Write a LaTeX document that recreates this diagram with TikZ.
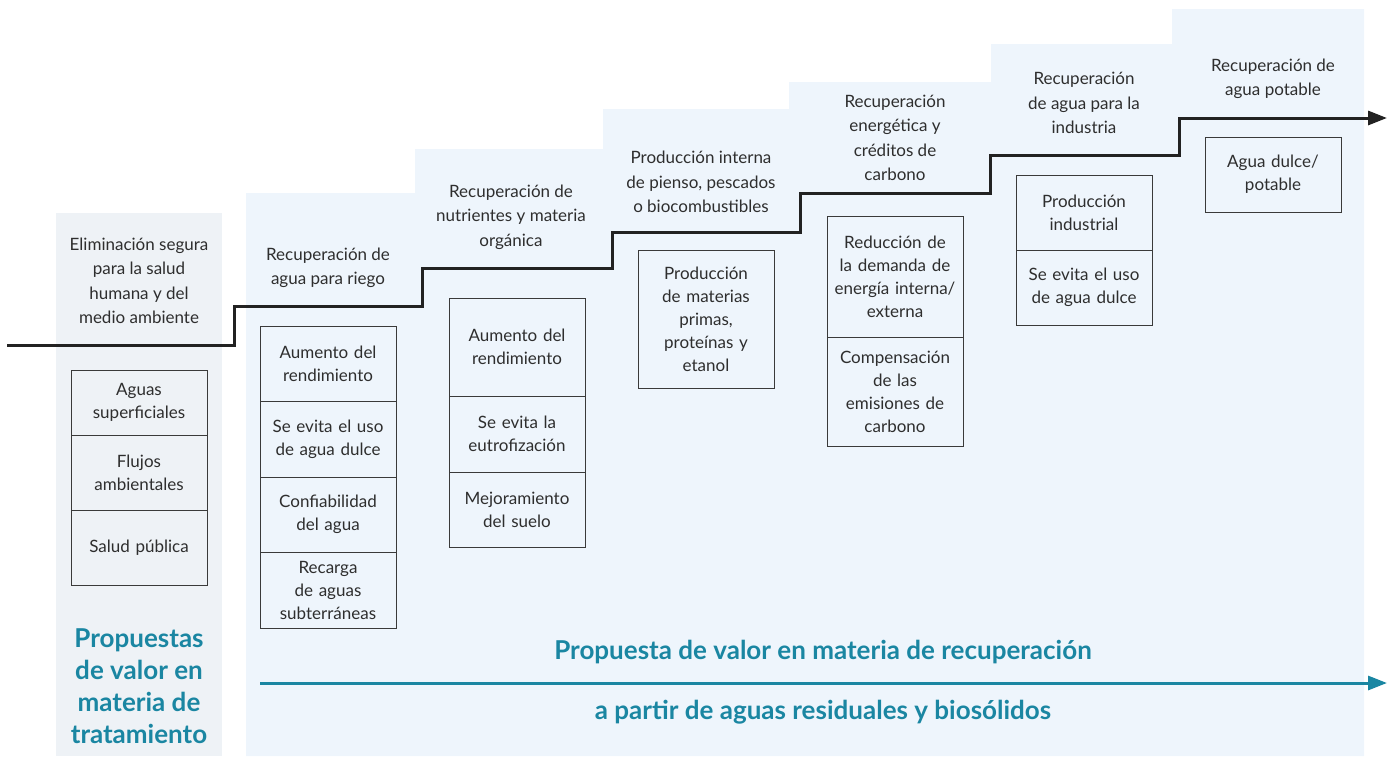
\documentclass[tikz,border=0pt]{standalone}
\usepackage{fontspec}
\setmainfont{Lato}
\usetikzlibrary{positioning,arrows.meta}
\definecolor{greypanel}{HTML}{EEF2F6}
\definecolor{bluepanel}{HTML}{EEF5FC}
\definecolor{tealtxt}{HTML}{1A86A2}
\definecolor{darktxt}{HTML}{2E2E2E}
\definecolor{boxline}{HTML}{3A3A3A}
\definecolor{stepcol}{HTML}{222222}
\begin{document}
\begin{tikzpicture}[x=1pt, y=-1pt, line join=miter, >={Triangle[length=19pt,width=14pt]},
	font=\fontsize{17}{24.5}\selectfont, text=darktxt,
	head/.style={align=center, inner sep=0pt},
	cell/.style={draw=boxline, line width=1pt, minimum width=136pt, minimum height=#1, text width=134pt, align=center, inner sep=0pt, outer sep=0pt, font=\fontsize{17}{23}\selectfont},
	title/.style={text=tealtxt, font=\fontsize{26}{32}\selectfont\bfseries, align=center, inner sep=0pt}]
	\useasboundingbox (0,0) rectangle (1395,756);
	% fondos
	\fill[greypanel] (56,213) rectangle (222,756);
	\fill[bluepanel] (246,756) |- (415,193) |- (603,149) |- (789,109) |- (991,82) |- (1172,44) |- (1364,9) -- (1364,756) -- cycle;
	% escalera
	\draw[line width=3pt, stepcol, ->] (7,345) -| (234,306) -| (422,268) -| (612,232) -| (800,193) -| (990,155) -| (1179,118) -- (1387,118);
	% titulos de cada escalon
	\node[head] (h0) at (139,281) {Eliminación segura\\para la salud\\humana y del\\medio ambiente};
	\node[head] (h1) at (328,268) {Recuperación de\\agua para riego};
	\node[head] (h2) at (511,217) {Recuperación de\\nutrientes y materia\\orgánica};
	\node[head] (h3) at (701,182) {Producción interna\\de pienso, pescados\\o biocombustibles};
	\node[head] (h4) at (895,138) {Recuperación\\energética y\\créditos de\\carbono};
	\node[head] (h5) at (1084,103) {Recuperación\\de agua para la\\industria};
	\node[head] (h6) at (1273,79) {Recuperación de\\agua potable};
	% cajas
	\node[cell=65pt, anchor=north] (c0a) at (139,370) {Aguas\\superficiales};
	\node[cell=75pt, below=0pt of c0a] (c0b) {Flujos\\ambientales};
	\node[cell=75pt, below=0pt of c0b] (c0c) {Salud pública};
	\node[cell=75pt, anchor=north] (c1a) at (328,326) {Aumento del\\rendimiento};
	\node[cell=76pt, below=0pt of c1a] (c1b) {Se evita el uso\\de agua dulce};
	\node[cell=75pt, below=0pt of c1b] (c1c) {Confiabilidad\\del agua};
	\node[cell=76pt, below=0pt of c1c] (c1d) {Recarga\\de aguas\\subterráneas};
	\node[cell=98pt, anchor=north] (c2a) at (517,298) {Aumento del\\rendimiento};
	\node[cell=76pt, below=0pt of c2a] (c2b) {Se evita la\\eutrofización};
	\node[cell=75pt, below=0pt of c2b] (c2c) {Mejoramiento\\del suelo};
	\node[cell=138pt, anchor=north] (c3a) at (706,250) {Producción\\de materias\\primas,\\proteínas y\\etanol};
	\node[cell=121pt, anchor=north] (c4a) at (895,216) {Reducción de\\la demanda de\\energía interna/\\externa};
	\node[cell=109pt, below=0pt of c4a] (c4b) {Compensación\\de las\\emisiones de\\carbono};
	\node[cell=75pt, anchor=north] (c5a) at (1084,175) {Producción\\industrial};
	\node[cell=75pt, below=0pt of c5a] (c5b) {Se evita el uso\\de agua dulce};
	\node[cell=75pt, anchor=north] (c6a) at (1273,137) {Agua dulce/\\potable};
	% propuestas
	\node[title] (t0) at (139,686) {Propuestas\\de valor en\\materia de\\tratamiento};
	\node[title] (t1) at (823,652) {Propuesta de valor en materia de recuperación};
	\node[title] (t2) at (823,712) {a partir de aguas residuales y biosólidos};
	\coordinate (a0) at (260,683);
	\coordinate (a1) at (1387,683);
	\draw[line width=3pt, tealtxt, ->] (a0) -- (a1);
\end{tikzpicture}
\end{document}
